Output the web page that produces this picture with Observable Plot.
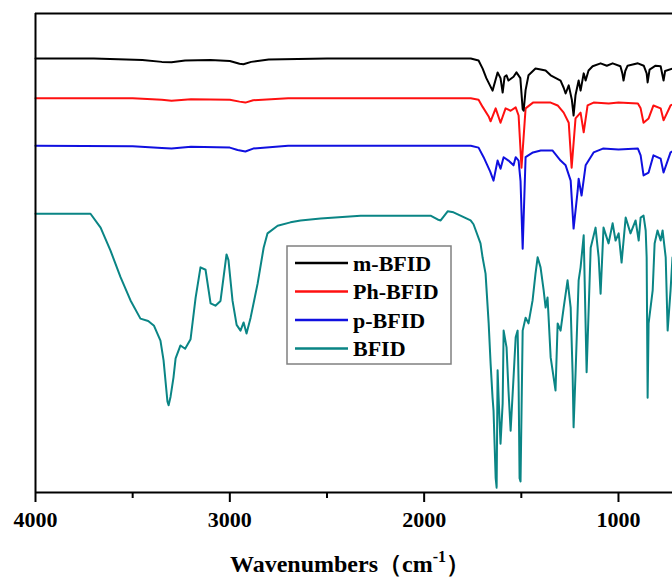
<!DOCTYPE html>
<html><head><meta charset="utf-8">
<script src="https://cdn.jsdelivr.net/npm/d3@7"></script>
<script src="https://cdn.jsdelivr.net/npm/@observablehq/plot@0.6"></script>
<style>body{margin:0;background:#fff}</style>
</head><body><div id="chart"></div>
<script>
const seriesNames = ["m-BFID", "Ph-BFID", "p-BFID", "BFID"];
const seriesColors = ["#000000", "#ff1010", "#1010e0", "#0a8585"];
const majorTicks = [4000, 3000, 2000, 1000];
const minorTicks = [3500, 2500, 1500];
const axisTitle = "Wavenumbers（cm";
const axisTitleSup = "-1";

// [wavenumber (cm-1), transmittance (arbitrary, offset)]
const mBFID = [[4000,90.6],[3700,90.6],[3450,90.3],[3350,89.9],[3300,89.8],[3230,90.2],[3100,90.3],[3000,90.1],[2950,89.5],[2930,89.4],[2890,89.9],[2800,90.4],[2500,90.6],[2000,90.6],[1760,90.6],[1720,90.2],[1699,88.5],[1680,86.5],[1648,83.9],[1622,87.7],[1607,86.5],[1596,83.5],[1586,86.8],[1576,87.1],[1566,86.0],[1540,86.8],[1525,87.7],[1505,86.5],[1493,80.0],[1488,79.7],[1478,84.0],[1463,87.1],[1427,88.5],[1400,88.3],[1375,88.1],[1349,87.1],[1298,86.0],[1282,84.5],[1272,83.3],[1256,85.0],[1240,82.0],[1231,78.7],[1221,83.0],[1205,86.0],[1195,83.9],[1179,87.5],[1169,86.0],[1154,88.1],[1133,89.0],[1092,89.6],[1060,89.1],[1030,89.6],[990,89.0],[980,87.5],[974,86.0],[965,88.0],[953,89.1],[900,89.6],[870,89.1],[855,87.5],[850,85.6],[840,88.3],[809,89.1],[783,89.0],[773,87.0],[768,86.0],[760,88.0],[722,88.5]];
const PhBFID = [[4000,82.3],[3500,82.3],[3350,82.0],[3300,81.8],[3200,82.1],[3000,82.0],[2950,81.6],[2920,81.4],[2880,81.9],[2700,82.3],[1760,82.3],[1720,82.0],[1699,80.5],[1668,78.5],[1658,77.5],[1632,80.2],[1607,77.2],[1581,80.2],[1555,79.7],[1529,80.4],[1514,78.7],[1499,67.8],[1478,80.2],[1440,81.4],[1349,81.4],[1313,80.8],[1282,79.3],[1256,77.2],[1241,67.8],[1221,78.1],[1195,79.3],[1179,75.2],[1159,80.8],[1128,81.4],[1050,81.2],[1000,81.4],[900,81.2],[886,80.2],[871,77.2],[845,78.1],[820,80.8],[783,80.2],[768,77.7],[732,80.8],[722,81.0]];
const pBFID = [[4000,72.4],[3500,72.3],[3350,71.9],[3300,71.8],[3200,72.2],[3000,72.0],[2960,71.5],[2920,71.2],[2880,71.8],[2700,72.4],[1760,72.4],[1720,72.0],[1694,70.0],[1660,67.0],[1643,65.1],[1622,69.3],[1607,67.6],[1591,70.0],[1566,69.3],[1540,68.3],[1529,70.0],[1514,69.3],[1504,65.0],[1493,50.9],[1478,70.0],[1440,71.0],[1400,71.4],[1340,71.4],[1298,69.3],[1272,68.3],[1246,65.1],[1231,55.1],[1210,63.0],[1205,65.5],[1190,62.0],[1169,68.3],[1128,71.0],[1080,71.8],[1000,71.6],[900,71.8],[886,70.4],[871,66.2],[845,66.8],[820,70.4],[783,69.7],[768,66.8],[732,71.0],[722,71.2]];
const BFID = [[4000,58.2],[3717,58.2],[3665,55.3],[3614,50.5],[3563,45.0],[3511,40.1],[3460,36.3],[3420,35.8],[3390,34.8],[3357,31.7],[3341,27.6],[3321,19.0],[3315,18.2],[3305,20.0],[3290,24.0],[3279,28.0],[3254,30.7],[3230,30.0],[3202,32.0],[3176,40.7],[3151,47.0],[3125,46.5],[3099,39.5],[3074,39.0],[3048,40.0],[3017,49.7],[3007,48.5],[2986,40.0],[2965,35.0],[2945,33.8],[2929,35.5],[2914,33.2],[2893,36.5],[2857,43.6],[2826,51.1],[2806,54.1],[2754,55.7],[2688,56.4],[2636,56.8],[2533,57.2],[2327,57.8],[2121,57.8],[1967,57.8],[1931,57.0],[1915,56.8],[1879,58.7],[1849,58.5],[1813,57.8],[1761,56.8],[1746,56.0],[1710,52.0],[1699,49.0],[1684,45.7],[1668,35.3],[1658,26.9],[1648,19.8],[1643,17.1],[1632,3.0],[1627,1.0],[1622,25.5],[1617,20.0],[1607,10.2],[1596,18.6],[1591,33.8],[1576,30.3],[1566,21.3],[1555,12.9],[1540,24.0],[1529,32.4],[1519,33.8],[1514,22.8],[1509,3.0],[1504,2.3],[1493,33.8],[1478,36.5],[1463,35.3],[1442,40.1],[1427,45.7],[1416,49.1],[1401,47.0],[1385,42.2],[1375,38.6],[1365,40.7],[1349,28.2],[1324,21.3],[1313,35.3],[1298,33.8],[1282,38.6],[1262,44.3],[1246,38.6],[1236,24.8],[1231,13.6],[1221,24.8],[1205,44.3],[1195,47.0],[1179,53.7],[1164,25.1],[1143,51.1],[1118,55.3],[1102,49.1],[1092,41.5],[1077,55.3],[1051,52.0],[1030,56.2],[1015,52.6],[999,54.1],[984,48.0],[963,57.4],[938,54.1],[912,56.8],[896,52.6],[886,57.4],[871,57.8],[860,54.7],[855,49.1],[850,19.8],[845,35.3],[824,42.2],[814,52.0],[799,54.7],[783,52.6],[773,54.7],[757,49.1],[747,33.8],[732,42.2],[722,49.1]];

const seriesData = [mBFID, PhBFID, pBFID, BFID];
const rows = [];
// draw teal first so black ends on top
for (let i = seriesData.length - 1; i >= 0; i--) {
  for (const [w, t] of seriesData[i]) rows.push({series: seriesNames[i], w, t});
}

const font = "'Liberation Serif','Times New Roman',serif";
const chart = Plot.plot({
  width: 672, height: 580,
  marginTop: 13, marginBottom: 88, marginLeft: 35, marginRight: 0,
  style: {fontFamily: font, fontSize: "22px", fontWeight: "bold", background: "#fff", color: "#000"},
  x: {domain: [4000, 722]},
  y: {domain: [0, 100], axis: null},
  color: {domain: seriesNames, range: seriesColors},
  marks: [
    Plot.line(rows, {x: "w", y: "t", z: "series", stroke: "series", strokeWidth: 2}),
    Plot.ruleX([4000], {stroke: "#000", strokeWidth: 2}),
    Plot.ruleY([100], {stroke: "#000", strokeWidth: 2}),
    Plot.ruleY([0], {stroke: "#000", strokeWidth: 2}),
    Plot.axisX(majorTicks, {tickSize: 10, tickPadding: 9, tickFormat: d => String(d), strokeWidth: 2, label: null}),
    Plot.axisX(minorTicks, {tickSize: 6, tickFormat: () => "", strokeWidth: 2, label: null})
  ]
});
document.getElementById("chart").appendChild(chart);

const svg = d3.select(chart);
// legend
const lg = svg.append("g").attr("font-family", font).attr("font-weight", "bold")
  .attr("font-size", 22).attr("text-anchor", "start");
lg.append("rect").attr("x", 287).attr("y", 246).attr("width", 164).attr("height", 118)
  .attr("fill", "#fff").attr("stroke", "#808080").attr("stroke-width", 1.5);
seriesNames.forEach((name, i) => {
  const y = 263 + i * 28.5;
  lg.append("line").attr("x1", 295).attr("x2", 348).attr("y1", y).attr("y2", y)
    .attr("stroke", seriesColors[i]).attr("stroke-width", 2.5);
  lg.append("text").attr("x", 353).attr("y", y).attr("dy", "0.35em").attr("fill", "#000").text(name);
});
// axis title
const t = svg.append("text").attr("x", 350).attr("y", 572).attr("text-anchor", "middle")
  .attr("font-family", font).attr("font-weight", "bold").attr("font-size", 24).attr("fill", "#000");
t.append("tspan").text(axisTitle);
t.append("tspan").attr("dy", -10).attr("font-size", 16).text(axisTitleSup);
t.append("tspan").attr("dy", 10).text("）");
</script>
</body></html>
